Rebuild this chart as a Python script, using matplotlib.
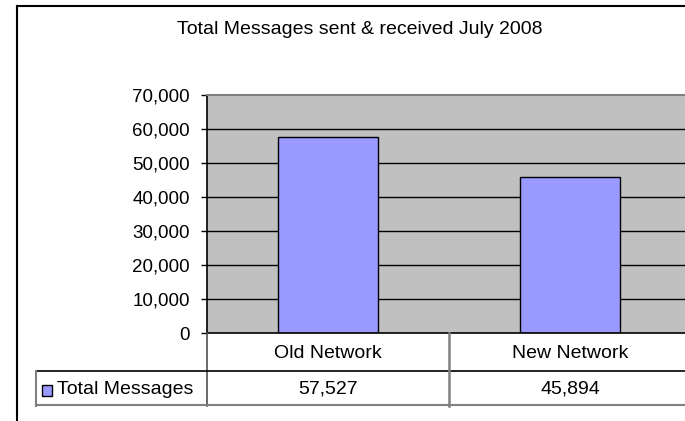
import matplotlib
matplotlib.use("Agg")
import matplotlib.pyplot as plt
from matplotlib.lines import Line2D
from matplotlib.patches import Rectangle
from matplotlib.ticker import FuncFormatter
import matplotlib.transforms as mtransforms

title = "Total Messages sent & received July 2008"
categories = ["Old Network", "New Network"]
series_name = "Total Messages"
values = [57527, 45894]
yticks = [0, 10000, 20000, 30000, 40000, 50000, 60000, 70000]

W, H = 685, 421
plt.rcParams['font.family'] = ['Liberation Sans', 'DejaVu Sans']
FS = 13.5
TFS = 14
fig = plt.figure(figsize=(W / 100, H / 100), dpi=100)

def fx(px):
    return px / W

def fy(py):
    return 1 - py / H

# plot area
left_px, right_px, top_px, bot_px = 207, 691, 95, 333
ax = fig.add_axes([fx(left_px), fy(bot_px), fx(right_px - left_px), (bot_px - top_px) / H])
ax.set_facecolor('#C0C0C0')
x = list(range(len(categories)))
ax.set_xlim(-0.5, len(categories) - 0.5)
ax.set_ylim(0, 70000)
ax.set_yticks(yticks)
ax.yaxis.set_major_formatter(FuncFormatter(lambda v, p: f"{int(v):,}"))
for t in yticks[1:-1]:
    ax.axhline(t, color='black', lw=1.0, zorder=1)
ax.bar(x, values, width=0.41, color='#9999FF', edgecolor='black', lw=1.0, zorder=2)
ax.set_xticks([])
ax.tick_params(axis='y', direction='out', length=4.5, width=1, color='black',
               labelsize=FS, pad=7.7)
ax.spines['top'].set_color('#808080')
ax.spines['top'].set_linewidth(1.5)
ax.spines['right'].set_visible(False)
ax.spines['left'].set_color('black')
ax.spines['left'].set_linewidth(1.2)
ax.spines['bottom'].set_color('black')
ax.spines['bottom'].set_linewidth(1.2)

# title
fig.text(fx(360), fy(30), title, ha='center', va='center', fontsize=14)

# outer chart border
def fline(xs, ys, color, lw):
    fig.add_artist(Line2D([fx(v) for v in xs], [fy(v) for v in ys],
                          transform=fig.transFigure, color=color, lw=lw))

fline([17, 17], [6, 421], 'black', 1.5)
fline([17, 700], [6, 6], 'black', 1.5)

# data table lines
fline([207, 207], [333, 406], '#505050', 1.2)
fline([36, 700], [371, 371], 'black', 1.2)
fline([449, 449], [333, 406], '#808080', 1.8)
fline([36, 700], [405, 405], '#808080', 1.5)
fline([36, 36], [371, 406], '#808080', 1.5)

# table texts: x in data coords, y in figure coords
trans = mtransforms.blended_transform_factory(ax.transData, fig.transFigure)
for xi, cat, val in zip(x, categories, values):
    fig.text(xi, fy(353), cat, transform=trans, ha='center', va='center', fontsize=TFS)
    fig.text(xi, fy(389), f"{val:,}", transform=trans, ha='center', va='center', fontsize=TFS)

# legend key
fig.add_artist(Rectangle((fx(42), fy(396)), fx(10), 11 / H, transform=fig.transFigure,
                         facecolor='#9999FF', edgecolor='black', lw=1.0))
fig.text(fx(57), fy(389), series_name, ha='left', va='center', fontsize=TFS)

fig.savefig("out.png", dpi=100)
